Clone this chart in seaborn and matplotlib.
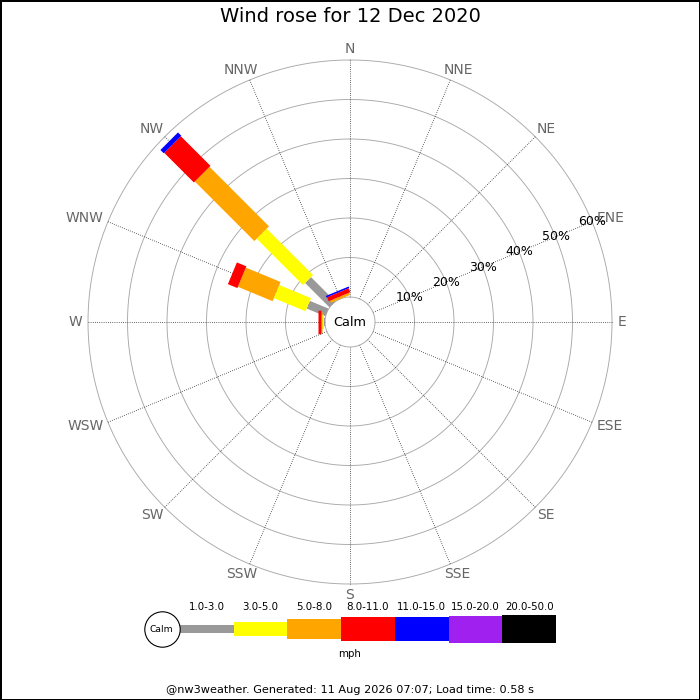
import numpy as np
import pandas as pd
import matplotlib
matplotlib.use("Agg")
import matplotlib.pyplot as plt
import matplotlib.transforms as mtransforms
import seaborn as sns

# ---------------- data ----------------
directions = ['N', 'NNE', 'NE', 'ENE', 'E', 'ESE', 'SE', 'SSE',
              'S', 'SSW', 'SW', 'WSW', 'W', 'WNW', 'NW', 'NNW']
speed_bins = ['1.0-3.0', '3.0-5.0', '5.0-8.0', '8.0-11.0',
              '11.0-15.0', '15.0-20.0', '20.0-50.0']
# percentage of the day per direction, one list per speed class
pct_1_3   = [0, 0, 0, 0, 0, 0, 0, 0, 0, 0, 0, 0, 0.2, 5.1, 8.7, 0]
pct_3_5   = [0, 0, 0, 0, 0, 0, 0, 0, 0, 0, 0, 0, 0.5, 8.7, 16.6, 0]
pct_5_8   = [0, 0, 0, 0, 0, 0, 0, 0, 0, 0, 0, 0, 0.4, 9.5, 21.3, 0.6]
pct_8_11  = [0, 0, 0, 0, 0, 0, 0, 0, 0, 0, 0, 0, 0.6, 2.6, 10.6, 1.1]
pct_11_15 = [0, 0, 0, 0, 0, 0, 0, 0, 0, 0, 0, 0, 0, 0, 1.2, 0.4]
pct_15_20 = [0, 0, 0, 0, 0, 0, 0, 0, 0, 0, 0, 0, 0, 0, 0, 0]
pct_20_50 = [0, 0, 0, 0, 0, 0, 0, 0, 0, 0, 0, 0, 0, 0, 0, 0]
ring_ticks = [10, 20, 30, 40, 50, 60]
ring_labels = ['10%', '20%', '30%', '40%', '50%', '60%']
label_direction = 'ENE'
title = 'Wind rose for 12 Dec 2020'
calm_label = 'Calm'
unit_label = 'mph'
footer = '@nw3weather. Generated: 11 Aug 2026 07:07; Load time: 0.58 s'

class_values = [pct_1_3, pct_3_5, pct_5_8, pct_8_11, pct_11_15, pct_15_20, pct_20_50]

# ---------------- style ----------------
colors = ['#999999', '#ffff00', '#ffa500', '#ff0000', '#0000ff', '#a020f0', '#000000']
widths_px = [8.3, 14.2, 20.8, 23.5, 24.8, 27.0, 28.3]
PT = 72.0 / 100.0  # points per pixel at dpi 100

sns.set_theme(style='white')
plt.rcParams['font.family'] = ['DejaVu Sans']

W = H = 700
fig = plt.figure(figsize=(7, 7), dpi=100, facecolor='white',
                 edgecolor='black', linewidth=2)

CX, CY = 350, 322
R_OUT, R_CALM = 262, 25
rmax = ring_ticks[-1]
rorigin = -R_CALM * rmax / (R_OUT - R_CALM)

ax = fig.add_axes([(CX - R_OUT) / W, (H - CY - R_OUT) / H,
                   2 * R_OUT / W, 2 * R_OUT / H], projection='polar')
ax.set_theta_zero_location('N')
ax.set_theta_direction(-1)

theta_dir = np.deg2rad(np.arange(len(directions)) * 360.0 / len(directions))

# percentage rings
th = np.linspace(0, 2 * np.pi, 721)
ring_df = pd.DataFrame({
    'theta': np.tile(th, len(ring_ticks)),
    'r': np.repeat(ring_ticks, len(th)),
    'ring': np.repeat(np.arange(len(ring_ticks)), len(th)),
})
sns.lineplot(data=ring_df, x='theta', y='r', units='ring', estimator=None,
             sort=False, color='#a8a8a8', linewidth=0.65, ax=ax, zorder=1)

# spokes
spoke_df = pd.DataFrame({
    'theta': np.repeat(theta_dir, 2),
    'r': np.tile([0, rmax], len(directions)),
    'dir': np.repeat(directions, 2),
})
sns.lineplot(data=spoke_df, x='theta', y='r', units='dir', estimator=None,
             sort=False, color='#333333', linewidth=0.6,
             linestyle=(0, (1, 1.6)), ax=ax, zorder=1)

# calm circle
ax.plot(th, np.zeros_like(th), color='#a8a8a8', linewidth=0.65, zorder=2)

for ln in ax.lines:
    ln.set_clip_on(False)

# stacked bars (constant pixel width rectangles)
base = np.zeros(len(directions))
for k, vals in enumerate(class_values):
    vals = np.asarray(vals, dtype=float)
    for i in range(len(directions)):
        if vals[i] > 0:
            ax.plot([theta_dir[i], theta_dir[i]], [base[i], base[i] + vals[i]],
                    color=colors[k], linewidth=widths_px[k] * PT,
                    solid_capstyle='butt', zorder=3 + k * 0.01, clip_on=False)
    base += vals

ax.set_ylim(0, rmax)
ax.set_rorigin(rorigin)
ax.set_xlabel('')
ax.set_ylabel('')
ax.set_axis_off()

# radial labels along ENE
th_lab = theta_dir[directions.index(label_direction)]
for rv, lab in zip(ring_ticks, ring_labels):
    ax.text(th_lab, rv, lab, ha='center', va='center', fontsize=9,
            color='black', zorder=5)

# calm text
ax.text(0.5, 0.5, calm_label, transform=ax.transAxes, ha='center',
        va='center', fontsize=9.3, color='black', zorder=5)

# direction labels
renderer = fig.canvas.get_renderer()
r_lab = rorigin + 268.0 / R_OUT * (rmax - rorigin)
for i, d in enumerate(directions):
    t = ax.text(theta_dir[i], r_lab, d, ha='center', va='center',
                fontsize=10, color='#666666', clip_on=False)
    w = t.get_window_extent(renderer=renderer).width
    dx = np.sin(theta_dir[i]) * w / 2.0
    dy = np.cos(theta_dir[i]) * 5.0
    t.set_transform(mtransforms.offset_copy(ax.transData, fig=fig,
                                            x=dx, y=dy, units='dots'))

# ---------------- legend ----------------
LX0, LX1, LCY = 180, 556, 629
lax = fig.add_axes([LX0 / W, (H - LCY - 40) / H, (LX1 - LX0) / W, 80 / H])
lax.set_xlim(-0.5, len(speed_bins) - 0.5)
lax.set_ylim(-40, 40)
lax.axis('off')
xs = np.arange(len(speed_bins))
hs = np.array(widths_px)
lax.bar(xs, hs, bottom=-hs / 2, width=1.0, color=colors, linewidth=0)
for x, lab in zip(xs, speed_bins):
    lax.text(x, 22, lab, ha='center', va='center', fontsize=7.4, color='black')
unit_px = (LX1 - LX0) / len(speed_bins)
calm_x = -0.5 - 18.3 / unit_px
lax.scatter([calm_x], [0], s=(35.4 * PT) ** 2, facecolor='white',
            edgecolor='black', linewidths=0.8, clip_on=False, zorder=3)
lax.text(calm_x, 0, calm_label, ha='center', va='center', fontsize=6.6,
         color='black', zorder=4)

fig.text(0.5, 1 - 654 / H, unit_label, ha='center', va='center',
         fontsize=7.4, color='black')

# title and footer
fig.text(0.5, 1 - 17 / H, title, ha='center', va='center', fontsize=14,
         color='black')
fig.text(0.5, 1 - 690 / H, footer, ha='center', va='center', fontsize=8.1,
         color='black')

fig.savefig('out.png', dpi=100, facecolor='white', edgecolor='black')
